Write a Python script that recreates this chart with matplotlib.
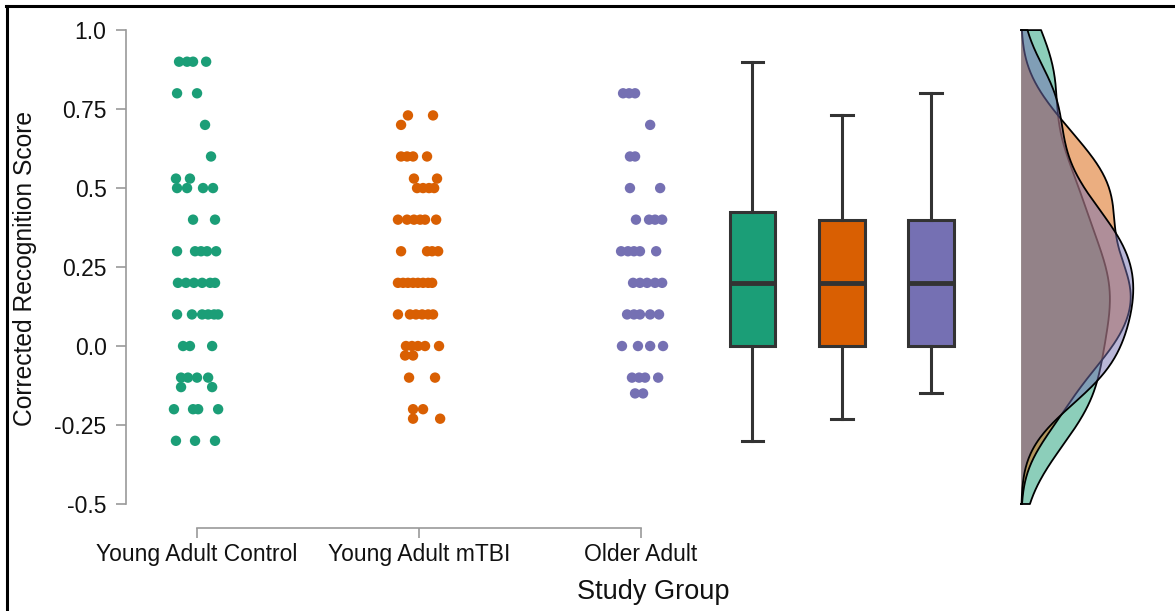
import numpy as np
import matplotlib
matplotlib.use("Agg")
import matplotlib.pyplot as plt
from matplotlib.lines import Line2D

plt.rcParams["font.family"] = ["Liberation Sans", "DejaVu Sans"]

groups = ["Young Adult Control", "Young Adult mTBI", "Older Adult"]
colors = ["#1b9e77", "#d95f02", "#7570b3"]

# Corrected recognition scores per participant
control_scores = [0.9, 0.9, 0.9, 0.9, 0.8, 0.8, 0.7, 0.6, 0.53, 0.53,
                  0.5, 0.5, 0.5, 0.5, 0.4, 0.4,
                  0.3, 0.3, 0.3, 0.3, 0.3,
                  0.2, 0.2, 0.2, 0.2, 0.2, 0.2,
                  0.1, 0.1, 0.1, 0.1, 0.1, 0.1,
                  0.0, 0.0, 0.0,
                  -0.1, -0.1, -0.1, -0.1, -0.13, -0.13,
                  -0.2, -0.2, -0.2, -0.2, -0.3, -0.3, -0.3]
mtbi_scores = [0.73, 0.73, 0.7, 0.6, 0.6, 0.6, 0.6, 0.53, 0.53,
               0.5, 0.5, 0.5, 0.5,
               0.4, 0.4, 0.4, 0.4, 0.4, 0.4,
               0.3, 0.3, 0.3, 0.3,
               0.2, 0.2, 0.2, 0.2, 0.2, 0.2, 0.2, 0.2,
               0.1, 0.1, 0.1, 0.1, 0.1, 0.1,
               0.0, 0.0, 0.0, 0.0, 0.0, -0.03, -0.03,
               -0.1, -0.1, -0.2, -0.2, -0.23, -0.23]
older_scores = [0.8, 0.8, 0.8, 0.7, 0.6, 0.6, 0.5, 0.5,
                0.4, 0.4, 0.4, 0.4,
                0.3, 0.3, 0.3, 0.3, 0.3,
                0.2, 0.2, 0.2, 0.2, 0.2,
                0.1, 0.1, 0.1, 0.1, 0.1,
                0.0, 0.0, 0.0, 0.0,
                -0.1, -0.1, -0.1, -0.1, -0.15, -0.15]

# horizontal jitter of each dot (fraction of group spacing)
control_jitter = [-0.081, -0.045, -0.018, 0.041, -0.090, 0.0, 0.036, 0.063, -0.095, -0.032,
                  -0.090, -0.045, 0.027, 0.072, -0.018, 0.081,
                  -0.090, -0.009, 0.018, 0.045, 0.086,
                  -0.086, -0.050, -0.014, 0.023, 0.059, 0.081,
                  -0.090, -0.023, 0.023, 0.050, 0.077, 0.095,
                  -0.063, -0.032, 0.068,
                  -0.072, -0.041, 0.0, 0.050, -0.072, 0.068,
                  -0.104, -0.018, 0.005, 0.095, -0.095, -0.009, 0.081]
mtbi_jitter = [-0.050, 0.063, -0.081, -0.081, -0.054, -0.027, 0.036, -0.023, 0.081,
               -0.009, 0.018, 0.045, 0.068,
               -0.095, -0.054, -0.023, 0.005, 0.027, 0.077,
               -0.081, 0.036, 0.059, 0.086,
               -0.095, -0.072, -0.050, -0.027, -0.005, 0.018, 0.041, 0.059,
               -0.095, -0.041, -0.014, 0.014, 0.041, 0.063,
               -0.059, -0.032, -0.005, 0.027, 0.090, -0.063, -0.027,
               -0.045, 0.072, -0.027, 0.018, -0.027, 0.095]
older_jitter = [-0.081, -0.054, -0.027, 0.041, -0.050, -0.027, -0.050, 0.086,
                -0.023, 0.036, 0.063, 0.095,
                -0.090, -0.059, -0.032, -0.005, 0.068,
                -0.036, -0.005, 0.027, 0.063, 0.095,
                -0.063, -0.032, -0.005, 0.041, 0.081,
                -0.086, -0.014, 0.041, 0.099,
                -0.041, -0.009, 0.018, 0.077, -0.027, 0.009]

# box summary: lower whisker, Q1, median, Q3, upper whisker
whislo = [-0.3, -0.23, -0.15]
q1 = [0.0, 0.0, 0.0]
medians = [0.2, 0.2, 0.2]
q3 = [0.425, 0.4, 0.4]
whishi = [0.9, 0.73, 0.8]

yticks = [-0.5, -0.25, 0.0, 0.25, 0.5, 0.75, 1.0]
ytick_labels = ["-0.5", "-0.25", "0.0", "0.25", "0.5", "0.75", "1.0"]


def bw_nrd0(values):
    # Silverman's rule of thumb, same as R's default
    v = np.asarray(values)
    iqr = np.subtract(*np.percentile(v, [75, 25]))
    spread = min(v.std(ddof=1), iqr / 1.34)
    return 0.9 * spread * len(v) ** -0.2


def kde(values, grid):
    bw = bw_nrd0(values)
    values = np.asarray(values)[:, None]
    z = (grid[None, :] - values) / bw
    return np.exp(-0.5 * z ** 2).sum(axis=0) / (len(values) * bw * np.sqrt(2 * np.pi))


W, H = 1175, 611
fig = plt.figure(figsize=(W / 100, H / 100), dpi=100)
ax = fig.add_axes([126 / W, (H - 528) / H, (W - 126) / W, (528 - 20) / H])
ax.set_xlim(0.68, 5.405)
ax.set_ylim(-0.576, 1.032)

all_scores = [control_scores, mtbi_scores, older_scores]
all_jitter = [control_jitter, mtbi_jitter, older_jitter]

# jittered dots
for i, (sc, jt) in enumerate(zip(all_scores, all_jitter)):
    xs = (i + 1) + np.asarray(jt)
    ax.scatter(xs, sc, s=56, color=colors[i], edgecolors="none", zorder=3)

# boxplots
box_pos = [3.5, 3.905, 4.306]
stats = []
for i in range(3):
    stats.append({"whislo": whislo[i], "q1": q1[i], "med": medians[i],
                  "q3": q3[i], "whishi": whishi[i], "fliers": []})
bp = ax.bxp(stats, positions=box_pos, widths=0.203, capwidths=0.095,
            patch_artist=True, showfliers=False,
            boxprops=dict(edgecolor="#333333", linewidth=2.2),
            whiskerprops=dict(color="#333333", linewidth=2.2),
            capprops=dict(color="#333333", linewidth=2.2),
            medianprops=dict(color="#333333", linewidth=3.5))
for patch, c in zip(bp["boxes"], colors):
    patch.set_facecolor(c)

# half-densities sharing one baseline
base = 4.712
grid = np.linspace(-0.5, 1.0, 300)
dens = [kde(sc, grid) for sc in all_scores]
scale = 0.505 / max(d.max() for d in dens)
for d, c in zip(dens, colors):
    xs = np.concatenate([[base], base + d * scale, [base]])
    ys = np.concatenate([[grid[0]], grid, [grid[-1]]])
    ax.fill(xs, ys, facecolor=c, alpha=0.5, edgecolor="none", zorder=2)
    ax.plot(xs, ys, color="black", linewidth=1.3, zorder=2)

# axes styling
for side in ["top", "right"]:
    ax.spines[side].set_visible(False)
ax.spines["left"].set_bounds(-0.5, 1.0)
ax.spines["bottom"].set_bounds(1, 3)
for side in ["left", "bottom"]:
    ax.spines[side].set_color("#9a9a9a")
    ax.spines[side].set_linewidth(1.2)
ax.set_yticks(yticks)
ax.set_yticklabels(ytick_labels)
ax.set_xticks([1, 2, 3])
ax.set_xticklabels(groups)
ax.tick_params(axis="both", length=7, width=1.2, color="#9a9a9a",
               labelsize=16.5, labelcolor="#111111")
ax.tick_params(axis="y", pad=7)
ax.tick_params(axis="x", pad=4)

fig.text(25 / W, 1 - 268 / H, "Corrected Recognition Score", rotation=90,
         ha="center", va="center", fontsize=17.7, color="#111111")
fig.text(653 / W, 1 - 592 / H, "Study Group", ha="center", va="center",
         fontsize=19.5, color="#111111")

# outer frame on the top and left edges
fig.add_artist(Line2D([6 / W, 1], [1 - 5.5 / H, 1 - 5.5 / H], color="black",
                      linewidth=2.2, transform=fig.transFigure))
fig.add_artist(Line2D([6.5 / W, 6.5 / W], [0, 1 - 5.5 / H], color="black",
                      linewidth=2.2, transform=fig.transFigure))

fig.savefig("out.png", dpi=100)
